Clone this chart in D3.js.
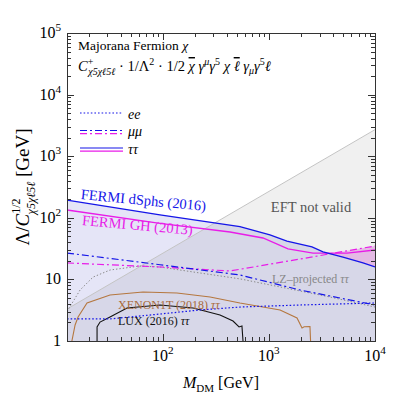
<!DOCTYPE html>
<html>
<head>
<meta charset="utf-8">
<script src="https://cdn.jsdelivr.net/npm/d3@7"></script>
<style>
body { margin: 0; background: #fff; }
text { font-family: "Liberation Serif", "DejaVu Serif", serif; }
</style>
</head>
<body>
<div id="chart"></div>
<script>
const width = 409, height = 397
const margin = {top: 33, right: 34, bottom: 56, left: 67}

// all series are [M_DM (GeV), Lambda (GeV)]
const fermiDsphsTauTau = [[12.5,194],[94,112],[533,72],[1023,52.6],[1479,42],[2547,33.6],[3236,27.9],[4990,23.1],[7709,18.5],[10000,15.9]]
const fermiDsphsMuMu = [[12.5,26.8],[94,17.3],[533,11.8],[1963,6.73],[10000,3.84]]
const fermiDsphsEE = [[12.5,2.28],[31.8,2.28],[94,2.74],[224,3.19],[533,3.56],[1963,3.84],[10000,4.14]]
const fermiGhTauTau = [[12.5,134],[94,81.5],[430,58.8],[879,47],[1514,31.2],[2606,26.8],[5450,26.8],[10000,30]]
const fermiGhMuMu = [[12.5,18.5],[94,15.9],[430,13.7],[1963,21.4],[10000,34.9]]
const lzTauTau = [[12.5,3.0],[16.6,6.73],[22,10.9],[31.8,14.2],[61,16.5],[94,15.9],[193,13.2],[533,10.2],[3767,5.18],[10000,3.56]]
const xenonTauTau = [[13.9,1],[14.9,1.82],[15.9,2.45],[19.3,4.14],[31.8,5.58],[65,6.24],[136,6.02],[279,5.18],[533,4.14],[1274,3.19],[1841,2.36],[2052,1.63],[2150,1.70],[2438,1.72],[2470,1]]
const luxTauTau = [[24,1],[24,1.69],[25.6,2.03],[31.8,2.45],[46,3.43],[94,3.84],[193,3.43],[346,2.64],[459,2.11],[523,1.69],[557,1.75],[570,1]]
const eftBoundary = [[12.5,3.3],[10000,2700]]

const xDomain = [12.5, 1e4]
const yDomain = [1, 1e5]
const xLabels = [[100,"10","2"],[1000,"10","3"],[10000,"10","4"]]
const yLabels = [[1,"1",""],[10,"10",""],[100,"10","2"],[1000,"10","3"],[10000,"10","4"],[100000,"10","5"]]
const legendRows = [
    {label: "ee", lines: [{color: "#1515e8", dash: "1.6,2"}]},
    {label: "μμ", lines: [{color: "#1515e8", dash: "7,3,2,3"}, {color: "#e81ce8", dash: "7,3,2,3"}]},
    {label: "ττ", lines: [{color: "#1515e8", dash: null}, {color: "#e81ce8", dash: null}]}
]

const blue = "#1515e8", magenta = "#e81ce8"

let svg = d3.select("#chart").append("svg")
    .attr("width", width)
    .attr("height", height)

let x = d3.scaleLog().domain(xDomain).range([margin.left, width - margin.right])
let y = d3.scaleLog().domain(yDomain).range([height - margin.bottom, margin.top])

svg.append("defs").append("clipPath")
    .attr("id", "plot-clip")
    .append("rect")
    .attr("x", x.range()[0]).attr("y", y.range()[1])
    .attr("width", x.range()[1] - x.range()[0])
    .attr("height", y.range()[0] - y.range()[1])

let plot = svg.append("g").attr("clip-path", "url(#plot-clip)")

const lineGen = d3.line().x(d => x(d[0])).y(d => y(d[1]))
const areaGen = d3.area().x(d => x(d[0])).y0(y(1)).y1(d => y(d[1]))

// pink where GH beats dSphs, lavender painted over it below dSphs
plot.append("path").attr("d", areaGen(fermiGhTauTau)).attr("fill", "#f3c6f3")
plot.append("path").attr("d", areaGen(fermiGhMuMu)).attr("fill", "#f3c6f3")
plot.append("path").attr("d", areaGen(fermiDsphsTauTau)).attr("fill", "#e5e5f7")

// EFT not valid region
plot.append("path")
    .attr("d", lineGen(eftBoundary.concat([[xDomain[1], 1], [xDomain[0], 1]])) + "Z")
    .attr("fill", "#000")
    .attr("fill-opacity", 0.06)
plot.append("path")
    .attr("d", lineGen(eftBoundary))
    .attr("stroke", "#c4c4c4")
    .attr("fill", "none")

const curves = [
    {data: lzTauTau, color: "#8a8a8a", dash: "1.4,2", w: 1},
    {data: xenonTauTau, color: "#b5773f", dash: null, w: 1.1},
    {data: luxTauTau, color: "#111", dash: null, w: 1.1},
    {data: fermiDsphsEE, color: blue, dash: "1.6,2", w: 1.2},
    {data: fermiGhMuMu, color: magenta, dash: "7,3,2,3", w: 1.2},
    {data: fermiDsphsMuMu, color: blue, dash: "7,3,2,3", w: 1.2},
    {data: fermiGhTauTau, color: magenta, dash: null, w: 1.3},
    {data: fermiDsphsTauTau, color: blue, dash: null, w: 1.3}
]

plot.append("g")
    .selectAll("path")
    .data(curves)
    .join("path")
    .attr("d", d => lineGen(d.data))
    .attr("fill", "none")
    .attr("stroke", d => d.color)
    .attr("stroke-width", d => d.w)
    .attr("stroke-dasharray", d => d.dash)

// frame and ticks
let frame = svg.append("g")
frame.append("rect")
    .attr("x", x.range()[0] + 0.5).attr("y", y.range()[1] + 0.5)
    .attr("width", x.range()[1] - x.range()[0]).attr("height", y.range()[0] - y.range()[1])
    .attr("fill", "none").attr("stroke", "#333").attr("stroke-width", 1)

const isMajor = v => Math.abs(Math.log10(v) - Math.round(Math.log10(v))) < 1e-6

x.ticks().forEach(v => {
    let px = Math.round(x(v)) + 0.5, len = isMajor(v) ? 7 : 4
    frame.append("line").attr("x1", px).attr("x2", px)
        .attr("y1", y.range()[0]).attr("y2", y.range()[0] - len).attr("stroke", "#333")
    frame.append("line").attr("x1", px).attr("x2", px)
        .attr("y1", y.range()[1]).attr("y2", y.range()[1] + len).attr("stroke", "#333")
})
y.ticks().forEach(v => {
    let py = Math.round(y(v)) + 0.5, len = isMajor(v) ? 7 : 4
    frame.append("line").attr("y1", py).attr("y2", py)
        .attr("x1", x.range()[0]).attr("x2", x.range()[0] + len).attr("stroke", "#333")
    frame.append("line").attr("y1", py).attr("y2", py)
        .attr("x1", x.range()[1]).attr("x2", x.range()[1] - len).attr("stroke", "#333")
})

function powerLabel(g, base, exp, size) {
    g.append("tspan").text(base)
    if (exp) g.append("tspan").attr("dy", -size * 0.42).attr("font-size", size * 0.7).text(exp)
}

xLabels.forEach(([v, b, e]) => {
    let t = svg.append("text").attr("x", x(v)).attr("y", 361)
        .attr("text-anchor", "middle").attr("font-size", 16)
    powerLabel(t, b, e, 16)
})
yLabels.forEach(([v, b, e]) => {
    let t = svg.append("text").attr("x", 61).attr("y", y(v) + 5)
        .attr("text-anchor", "end").attr("font-size", 16)
    powerLabel(t, b, e, 16)
})

// axis titles
let xt = svg.append("text").attr("x", 221).attr("y", 388)
    .attr("text-anchor", "middle").attr("font-size", 16)
xt.append("tspan").attr("font-style", "italic").text("M")
xt.append("tspan").attr("dy", 4).attr("font-size", 11).text("DM")
xt.append("tspan").attr("dy", -4).text(" [GeV]")

let yt = svg.append("text")
    .attr("transform", "translate(29," + ((y.range()[0] + y.range()[1]) / 2) + ") rotate(-90)")
    .attr("text-anchor", "middle").attr("font-size", 19)
yt.append("tspan").text("Λ/")
yt.append("tspan").attr("font-style", "italic").text("C")
yt.append("tspan").attr("dy", -9).attr("font-size", 12).text("1/2")
yt.append("tspan").attr("dx", -16).attr("dy", 15).attr("font-size", 12).attr("font-style", "italic").text("χ5χℓ5ℓ")
yt.append("tspan").attr("dy", -6).text(" [GeV]")

// header text
svg.append("text").attr("x", 78).attr("y", 50).attr("font-size", 13.5)
    .text("Majorana Fermion ").append("tspan").attr("font-style", "italic").text("χ")

const sc = 10
let f = svg.append("text").attr("x", 78).attr("y", 71).attr("font-size", 14.5)
f.append("tspan").attr("font-style", "italic").text("C")
f.append("tspan").attr("dy", -6).attr("font-size", sc).text("+")
f.append("tspan").attr("dx", -5).attr("dy", 10).attr("font-size", sc).attr("font-style", "italic").text("χ5χℓ5ℓ")
f.append("tspan").attr("dy", -4).text(" · 1/Λ")
f.append("tspan").attr("dy", -6).attr("font-size", sc).text("2")
f.append("tspan").attr("dy", 6).text(" · 1/2 ")
f.append("tspan").attr("font-style", "italic").attr("text-decoration", "overline").text("χ")
f.append("tspan").attr("font-style", "italic").text(" γ")
f.append("tspan").attr("dy", -6).attr("font-size", sc).attr("font-style", "italic").text("μ")
f.append("tspan").attr("dy", 6).attr("font-style", "italic").text("γ")
f.append("tspan").attr("dy", -6).attr("font-size", sc).text("5")
f.append("tspan").attr("dy", 6).attr("font-style", "italic").text(" χ ")
f.append("tspan").attr("font-style", "italic").attr("text-decoration", "overline").text("ℓ")
f.append("tspan").attr("font-style", "italic").text(" γ")
f.append("tspan").attr("dy", 3).attr("font-size", sc).attr("font-style", "italic").text("μ")
f.append("tspan").attr("dy", -3).attr("font-style", "italic").text("γ")
f.append("tspan").attr("dy", -6).attr("font-size", sc).text("5")
f.append("tspan").attr("dy", 6).attr("font-style", "italic").text("ℓ")

// legend
legendRows.forEach((r, i) => {
    let ly = 113 + i * 17.5
    r.lines.forEach((l, j) => {
        svg.append("line").attr("x1", 80).attr("x2", 123)
            .attr("y1", ly + j * 3.2).attr("y2", ly + j * 3.2)
            .attr("stroke", l.color).attr("stroke-width", 1.2)
            .attr("stroke-dasharray", l.dash)
    })
    svg.append("text").attr("x", 128).attr("y", ly + 5.5)
        .attr("font-size", 14).attr("font-style", "italic").text(r.label)
})

// curve annotations
svg.append("text").attr("transform", "translate(143,205) rotate(5.4)")
    .attr("text-anchor", "middle").attr("font-size", 14.5).attr("fill", blue)
    .text("FERMI dSphs (2016)")
svg.append("text").attr("transform", "translate(137,230) rotate(5.1)")
    .attr("text-anchor", "middle").attr("font-size", 14.5).attr("fill", magenta)
    .text("FERMI GH (2013)")
svg.append("text").attr("x", 311).attr("y", 212)
    .attr("text-anchor", "middle").attr("font-size", 14.5).attr("fill", "#555")
    .text("EFT not valid")

let xe = svg.append("text").attr("x", 118).attr("y", 309).attr("font-size", 12).attr("fill", "#a86a3c")
xe.append("tspan").text("XENON1T (2018)  ")
xe.append("tspan").attr("font-style", "italic").text("ττ")
let lu = svg.append("text").attr("x", 118).attr("y", 325).attr("font-size", 12).attr("fill", "#111")
lu.append("tspan").text("LUX (2016)  ")
lu.append("tspan").attr("font-style", "italic").text("ττ")
let lz = svg.append("text").attr("x", 272).attr("y", 283).attr("font-size", 12).attr("fill", "#888")
lz.append("tspan").text("LZ–projected  ")
lz.append("tspan").attr("font-style", "italic").text("ττ")
</script>
</body>
</html>
